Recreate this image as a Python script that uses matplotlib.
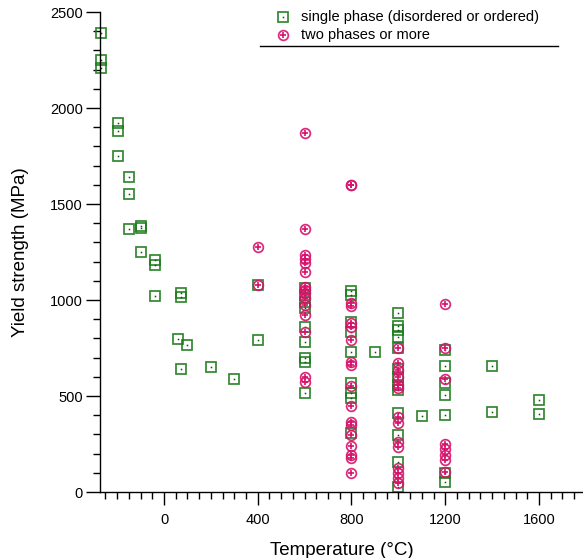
import matplotlib
matplotlib.use("Agg")
import matplotlib.pyplot as plt
import numpy as np

plt.rcParams['font.family'] = ['Liberation Sans', 'DejaVu Sans']

# Single phase (disordered or ordered): temperature (°C), yield strength (MPa)
single_T = [-269, -269, -269,
            -196, -196, -196,
            -150, -150, -150,
            -100, -100, -100,
            -40, -40, -40,
            60, 72, 72, 72, 100, 200, 300,
            400, 400,
            600, 600, 600, 600, 600, 600, 600, 600, 600,
            800, 800, 800, 800, 800, 800, 800, 800, 800,
            900,
            1000, 1000, 1000, 1000, 1000, 1000, 1000, 1000, 1000, 1000, 1000, 1000, 1000,
            1100,
            1200, 1200, 1200, 1200, 1200, 1200, 1200,
            1400, 1400,
            1600, 1600]
single_Y = [2392, 2250, 2208,
            1920, 1880, 1750,
            1640, 1550, 1370,
            1377, 1385, 1248,
            1210, 1180, 1020,
            795, 1038, 1017, 639, 764, 650, 589,
            790, 1078,
            1061, 1026, 991, 957, 861, 780, 696, 679, 514,
            1047, 1026, 887, 835, 731, 566, 514, 488, 305,
            727,
            934, 865, 844, 809, 748, 640, 600, 557, 530, 411, 297, 158, 28,
            396,
            740, 656, 570, 505, 401, 101, 54,
            656, 418,
            479, 406]

# Two phases or more
multi_T = [400, 400,
           600, 600, 600, 600, 600, 600, 600, 600, 600, 600, 600, 600, 600, 600, 600,
           800, 800, 800, 800, 800, 800, 800, 800, 800, 800, 800, 800, 800, 800, 800, 800, 800, 800,
           1000, 1000, 1000, 1000, 1000, 1000, 1000, 1000, 1000, 1000, 1000, 1000, 1000, 1000,
           1200, 1200, 1200, 1200, 1200, 1200, 1200, 1200]
multi_Y = [1274, 1080,
           1871, 1370, 1234, 1212, 1191, 1147, 1069, 1052, 1035, 1009, 974, 922, 832, 601, 575,
           1600, 1597, 986, 969, 878, 861, 792, 679, 661, 552, 448, 366, 349, 297, 241, 193, 175, 101,
           748, 674, 635, 601, 557, 540, 392, 361, 262, 236, 123, 97, 71, 49,
           979, 748, 587, 250, 222, 193, 167, 106]

legend_labels = ["single phase (disordered or ordered)", "two phases or more"]

green = '#1b7a1b'
pink = '#d6136a'

W, H = 583, 558
fig = plt.figure(figsize=(W / 100, H / 100), dpi=100)
ax = fig.add_axes([100.3 / W, 66 / H, 482.7 / W, 480 / H])

def draw_single(ax, x, y, **kw):
    ax.plot(x, y, ls='none', marker='s', ms=7.6, mfc='none', mec=green, mew=1.25, alpha=0.9, **kw)
    ax.plot(x, y, ls='none', marker='s', ms=1.1, mfc='#0b4d0b', mec='none', **kw)

def draw_multi(ax, x, y, **kw):
    ax.plot(x, y, ls='none', marker='o', ms=7.0, mfc='none', mec=pink, mew=1.25, alpha=0.9, **kw)
    ax.plot(x, y, ls='none', marker='+', ms=4.4, mec=pink, mew=1.2, **kw)

draw_single(ax, single_T, single_Y, clip_on=False)
draw_multi(ax, multi_T, multi_Y, clip_on=False)

ax.set_xlim(-272, 1788)
ax.set_ylim(0, 2500)

ax.set_xticks([0, 400, 800, 1200, 1600])
ax.set_xticks(np.arange(-250, 1751, 50), minor=True)
ax.set_yticks([0, 500, 1000, 1500, 2000, 2500])
ax.set_yticks(np.arange(0, 2501, 100), minor=True)

ax.tick_params(axis='both', which='major', direction='out', length=9, width=1.0,
               labelsize=10.5, colors='black', pad=6)
ax.tick_params(axis='both', which='minor', direction='out', length=5, width=1.0)
ax.tick_params(axis='y', which='major', length=10, pad=2.5)

for s in ['top', 'right']:
    ax.spines[s].set_visible(False)
for s in ['left', 'bottom']:
    ax.spines[s].set_linewidth(1.0)

ax.set_xlabel("Temperature (°C)", fontsize=13.5, labelpad=11)
ax.set_ylabel("Yield strength (MPa)", fontsize=13.5, labelpad=15)

# Legend drawn manually in axes coordinates
def ax_xy(px, py):
    return (px - 100.3) / 482.7, (492 - py) / 480

mx, my1 = ax_xy(283, 17)
_, my2 = ax_xy(283, 35)
tx, _ = ax_xy(301, 0)
draw_single(ax, [mx], [my1], transform=ax.transAxes, clip_on=False)
draw_multi(ax, [mx], [my2], transform=ax.transAxes, clip_on=False)
ax.text(tx, my1, legend_labels[0], transform=ax.transAxes, fontsize=10.5, va='center', ha='left')
ax.text(tx, my2, legend_labels[1], transform=ax.transAxes, fontsize=10.5, va='center', ha='left')
lx0, ly = ax_xy(260, 46)
lx1, _ = ax_xy(558, 46)
ax.plot([lx0, lx1], [ly, ly], color='black', lw=1.0, transform=ax.transAxes, clip_on=False)

fig.savefig("out.png", dpi=100)
